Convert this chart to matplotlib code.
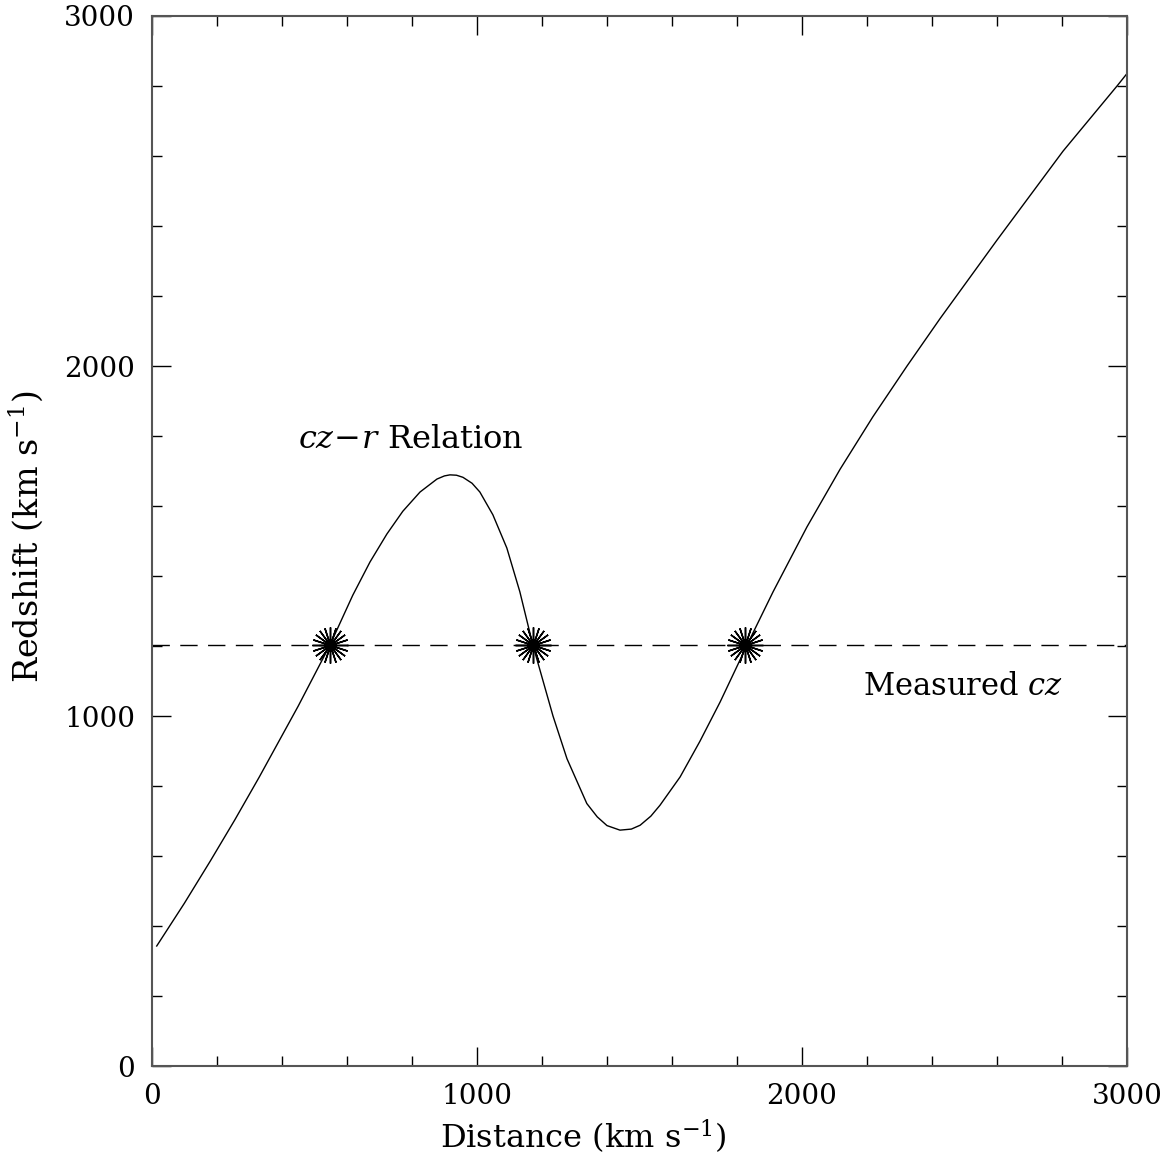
import matplotlib
matplotlib.use("Agg")
import matplotlib.pyplot as plt
from matplotlib.ticker import MultipleLocator

plt.rcParams['font.family'] = ['DejaVu Serif']
plt.rcParams['mathtext.fontset'] = 'dejavuserif'

# cz-r relation
distance = [15, 100, 180, 255, 330, 450, 548, 618, 671, 723, 772, 825, 877,
            900, 917, 937, 957, 985, 1009, 1049, 1092, 1132, 1172, 1234, 1277,
            1338, 1370, 1400, 1440, 1475, 1502, 1535, 1563, 1625, 1686, 1748,
            1800, 1831, 1911, 2015, 2117, 2218, 2323, 2425, 2600, 2803, 2969,
            3000]
redshift = [343, 465, 586, 703, 825, 1028, 1203, 1345, 1440, 1520, 1585,
            1640, 1677, 1686, 1689, 1688, 1682, 1665, 1640, 1575, 1480, 1355,
            1203, 1000, 878, 750, 712, 687, 674, 677, 688, 714, 745, 826, 928,
            1040, 1142, 1203, 1355, 1540, 1705, 1855, 2000, 2136, 2360, 2614,
            2800, 2836]

measured_cz = 1203
solutions = [548, 1172, 1825]

fig = plt.figure(figsize=(11.68, 11.58), dpi=100)
ax = fig.add_axes([0.130, 0.0794, 0.835, 0.9068])

ax.plot(distance, redshift, color='black', lw=1.0)
ax.axhline(measured_cz, color='black', lw=1.0, dashes=(12.5, 7.5))
ax.plot(solutions, [measured_cz] * len(solutions), ls='none', marker=(20, 2, 0),
        ms=26, mew=1.1, color='black')
ax.plot(solutions, [measured_cz] * len(solutions), ls='none', marker='o',
        ms=5, color='black')

ax.text(449, 1766, r'$cz\!-\!r$ Relation', fontsize=23, va='baseline')
ax.text(2188, 1060, r'Measured $cz$', fontsize=22, va='baseline')

ax.set_xlim(0, 3000)
ax.set_ylim(0, 3000)
ax.xaxis.set_major_locator(MultipleLocator(1000))
ax.yaxis.set_major_locator(MultipleLocator(1000))
ax.xaxis.set_minor_locator(MultipleLocator(200))
ax.yaxis.set_minor_locator(MultipleLocator(200))
ax.tick_params(which='both', direction='in', top=True, right=True,
               labelsize=20, pad=12, width=1.0, color='black')
ax.tick_params(which='major', length=14)
ax.tick_params(which='minor', length=7)
for s in ax.spines.values():
    s.set_color('#555555')
    s.set_linewidth(1.5)

ax.set_xlabel(r'Distance (km s$^{-1}$)', fontsize=23)
ax.set_ylabel(r'Redshift (km s$^{-1}$)', fontsize=24)
ax.xaxis.set_label_coords(0.442, -0.049)
ax.yaxis.set_label_coords(-0.110, 0.504)

fig.savefig('out.png', dpi=100)
